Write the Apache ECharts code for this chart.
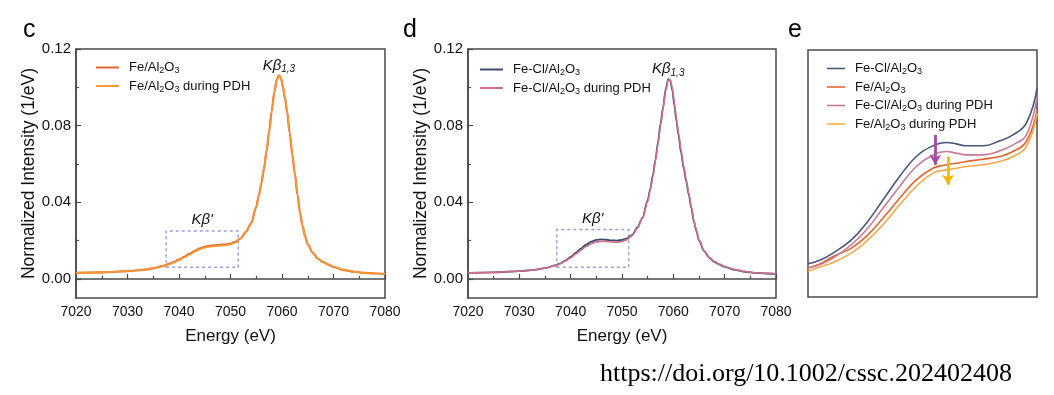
<!DOCTYPE html>
<html><head><meta charset="utf-8">
<script src="https://cdn.jsdelivr.net/npm/echarts@6/dist/echarts.min.js"></script>
<style>html,body{margin:0;padding:0;background:#fff}#chart{width:1054px;height:395px}</style>
</head><body><div id="chart"></div>
<script>
// ---------- data ----------
const energy = [7020,7025,7030,7033,7035,7037,7038,7039,7040,7041,7042,7043,7044,7045,7046,7047,7048,7049,7050,7051,7052,7053,7054,7055,7055.5,7056,7056.5,7057,7057.5,7058,7058.5,7059,7059.4,7059.8,7060.2,7060.6,7061,7061.5,7062,7062.5,7063,7063.5,7064,7064.5,7065,7066,7067,7068,7069,7070,7072,7074,7076,7078,7080];
const feAl2O3 = [.0031,.0034,.0040,.0047,.0055,.0068,.0077,.0088,.0100,.0115,.0130,.0145,.0158,.0167,.0172,.0175,.0177,.0179,.0183,.0193,.0212,.0245,.0290,.0375,.0435,.0500,.0575,.0665,.0770,.0875,.0975,.1040,.1063,.1050,.1000,.0940,.0870,.0760,.0650,.0550,.0440,.0345,.0275,.0220,.0180,.0135,.0105,.0087,.0074,.0062,.0046,.0037,.0031,.0028,.0026];
const feAl2O3PDH = [.0031,.0034,.0040,.0047,.0055,.0067,.0075,.0085,.0097,.0111,.0126,.0141,.0154,.0163,.0168,.0171,.0173,.0175,.0180,.0190,.0210,.0244,.0290,.0376,.0437,.0502,.0578,.0668,.0772,.0876,.0975,.1038,.1062,.1051,.1002,.0943,.0873,.0763,.0652,.0552,.0442,.0347,.0276,.0221,.0181,.0136,.0106,.0088,.0075,.0063,.0047,.0037,.0031,.0028,.0026];
const feClAl2O3 = [.0031,.0034,.0040,.0047,.0056,.0070,.0081,.0096,.0115,.0136,.0158,.0178,.0194,.0203,.0206,.0204,.0201,.0200,.0203,.0211,.0230,.0268,.0320,.0410,.0470,.0540,.0620,.0710,.0810,.0895,.0990,.1042,.1035,.0985,.0905,.0825,.0750,.0660,.0580,.0510,.0440,.0370,.0300,.0248,.0200,.0145,.0110,.0088,.0075,.0063,.0047,.0037,.0031,.0028,.0026];
const feClAl2O3PDH = [.0031,.0034,.0040,.0047,.0055,.0069,.0079,.0093,.0110,.0130,.0150,.0169,.0184,.0193,.0196,.0195,.0192,.0191,.0195,.0205,.0226,.0264,.0316,.0403,.0462,.0532,.0612,.0702,.0800,.0888,.0982,.1038,.1040,.0995,.0918,.0838,.0763,.0672,.0590,.0519,.0448,.0377,.0306,.0253,.0204,.0148,.0112,.0090,.0076,.0064,.0048,.0038,.0032,.0029,.0027];

// zoomed K-beta' region (panel e)
const zoomEnergy = [7037.5,7038.21,7039.03,7040.15,7041.07,7042.09,7043.1,7044.12,7045.14,7045.96,7046.57,7047.18,7048.2,7049.22,7050.03,7050.85,7051.5];
const zoomFeCl = [0.00856,0.00882,0.00938,0.0104,0.01168,0.01348,0.01527,0.01681,0.01763,0.01788,0.01778,0.01763,0.01763,0.01801,0.01847,0.01937,0.02205];
const zoomFe = [0.00823,0.00854,0.00912,0.00976,0.01066,0.01207,0.0136,0.01501,0.01591,0.01617,0.01629,0.01642,0.0166,0.01681,0.01719,0.01796,0.02039];
const zoomFeClPDH = [0.00823,0.00848,0.009,0.01002,0.01117,0.01284,0.0145,0.01604,0.01693,0.01719,0.01706,0.01693,0.01693,0.01724,0.0177,0.01847,0.02141];
const zoomFePDH = [0.00797,0.0083,0.00866,0.00938,0.01028,0.01156,0.01309,0.0145,0.01553,0.01578,0.01591,0.01604,0.01617,0.01642,0.01681,0.01757,0.02013];
const zoomArrows = [{x:7045.28, from:0.01847, to:0.01617, color:'#a24aa6'},{x:7046.06, from:0.0168, to:0.01463, color:'#f6b800'}];

const yLabelTicks = [0, 0.04, 0.08, 0.12];
const yMinorTicks = [0.02, 0.06, 0.10];
const kbPrimeBoxC = [[7037.5, 0.006],[7051.5, 0.025]];
const kbPrimeBoxD = [[7037.3, 0.006],[7051.3, 0.0257]];
const panelLabels = ['c','d','e'];
const doiText = 'https://doi.org/10.1002/cssc.202402408';

// ---------- helpers ----------
const FONT = "'Liberation Sans', Arial, sans-serif";
const pair = (xs, ys) => xs.map((x,i)=>[x, ys[i]]);
const subRich = s => s.replace(/Al2O3/g, 'Al{s|2}O{s|3}');
const peakOf = ys => { let k=0; ys.forEach((v,i)=>{ if(v>ys[k]) k=i; }); return [energy[k], ys[k]]; };
const legendRich = { s: { fontSize: 9, fontFamily: FONT, color:'#111', padding:[7,0,0,0] } };
const axisColor = '#4a4a4a';

function mainX(gi){
  return { gridIndex: gi, type:'value', min:7020, max:7080, interval:10,
    name:'Energy (eV)', nameLocation:'middle', nameGap:30,
    nameTextStyle:{fontFamily:FONT, fontSize:17, color:'#111'},
    axisLine:{show:true, lineStyle:{color:axisColor, width:1.5}},
    axisTick:{show:true, inside:true, length:5, lineStyle:{color:axisColor, width:1.2}},
    minorTick:{show:true, splitNumber:2, length:3, lineStyle:{color:axisColor, width:1.2}},
    axisLabel:{fontFamily:FONT, fontSize:14, color:'#111', margin:7, formatter: v=>String(v)},
    splitLine:{show:false} };
}
function mainY(gi){
  return { gridIndex: gi, type:'value', min:-0.01, max:0.12,
    name:'Normalized Intensity (1/eV)', nameLocation:'middle', nameGap:37,
    nameTextStyle:{fontFamily:FONT, fontSize:17.5, color:'#111'},
    axisLine:{show:true, lineStyle:{color:axisColor, width:1.5}},
    axisTick:{show:true, inside:true, length:5, customValues: yLabelTicks, lineStyle:{color:axisColor, width:1.2}},
    axisLabel:{fontFamily:FONT, fontSize:15, color:'#111', margin:5, customValues: yLabelTicks, formatter: v=>v.toFixed(2)},
    splitLine:{show:false} };
}
function minorY(gi){
  return { gridIndex: gi, type:'value', min:-0.01, max:0.12, position:'left',
    axisLine:{show:false},
    axisTick:{show:true, inside:true, length:3, customValues: yMinorTicks, lineStyle:{color:axisColor, width:1.2}},
    axisLabel:{show:false}, splitLine:{show:false} };
}
function kbLabel(ys){
  return { symbol:'circle', symbolSize:1, silent:true, itemStyle:{color:'rgba(0,0,0,0)'},
    label:{show:true, position:'top', distance:1, formatter:'{k|Kβ}{s|1,3}',
      rich:{k:{fontFamily:FONT, fontSize:15, fontStyle:'italic', color:'#111'},
            s:{fontFamily:FONT, fontSize:10, fontStyle:'italic', color:'#111', padding:[7,0,0,0]}}},
    data:[{coord: peakOf(ys)}] };
}
function kbPrime(box){
  return { silent:true,
    itemStyle:{color:'rgba(0,0,0,0)', borderColor:'#9c9fd8', borderWidth:1.5, borderType:[3,3]},
    label:{show:true, position:'top', distance:3, formatter:"Kβ'", fontFamily:FONT, fontSize:15, fontStyle:'italic', color:'#111'},
    data:[[{coord:box[0]},{coord:box[1]}]] };
}
function line(name, xi, yi, d, color, w, extra){
  return Object.assign({ name, type:'line', xAxisIndex:xi, yAxisIndex:yi, data:d, symbol:'none',
    smooth:0.3, smoothMonotone:'x', lineStyle:{color, width:w}, itemStyle:{color}, z:3 }, extra||{});
}

const names = {
  c1:'Fe/Al2O3', c2:'Fe/Al2O3 during PDH',
  d1:'Fe-Cl/Al2O3', d2:'Fe-Cl/Al2O3 during PDH',
  e1:'Fe-Cl/Al2O3', e2:'Fe/Al2O3', e3:'Fe-Cl/Al2O3 during PDH', e4:'Fe/Al2O3 during PDH'
};
const fmt = n => subRich(names[n]);

const eSmooth = {smooth:0.45, smoothMonotone:null};
const series = [
  line('c1', 0, 0, pair(energy, feAl2O3), '#e2652c', 2.2, {markArea: kbPrime(kbPrimeBoxC)}),
  line('c2', 0, 0, pair(energy, feAl2O3PDH), '#f59a35', 1.6, {markPoint: kbLabel(feAl2O3PDH)}),
  line('d1', 1, 2, pair(energy, feClAl2O3), '#3e4b72', 1.8, {markArea: kbPrime(kbPrimeBoxD), markPoint: kbLabel(feClAl2O3)}),
  line('d2', 1, 2, pair(energy, feClAl2O3PDH), '#d06f8c', 1.6),
  line('e1', 2, 4, pair(zoomEnergy, zoomFeCl), '#47567c', 1.6, eSmooth),
  line('e2', 2, 4, pair(zoomEnergy, zoomFe), '#e0642e', 1.6, eSmooth),
  line('e3', 2, 4, pair(zoomEnergy, zoomFeClPDH), '#c97a93', 1.6, eSmooth),
  line('e4', 2, 4, pair(zoomEnergy, zoomFePDH), '#f7a64a', 1.6, Object.assign({}, eSmooth, {
    markLine:{ silent:true, symbol:['none','arrow'], symbolSize:[9,10], label:{show:false},
      data: zoomArrows.map(a=>[{coord:[a.x,a.from], lineStyle:{color:a.color, width:2.8, type:'solid'}},{coord:[a.x,a.to]}]) }})),
];

function legend(left, top, data, w){
  return { left, top, orient:'vertical', data, itemWidth:w, itemHeight:10, itemGap:4,
    icon:'path://M0,4 L23,4 L23,6 L0,6 Z',
    textStyle:{fontFamily:FONT, fontSize:13, color:'#111', padding:[0,0,0,5], rich: legendRich},
    formatter: fmt, selectedMode:false, inactiveColor:'#ccc' };
}

const option = {
  animation:false,
  backgroundColor:'#fff',
  title: [
    {text:panelLabels[0], left:18, top:13, textStyle:{fontFamily:FONT, fontSize:25, fontWeight:'normal', color:'#000'}},
    {text:panelLabels[1], left:398, top:13, textStyle:{fontFamily:FONT, fontSize:25, fontWeight:'normal', color:'#000'}},
    {text:panelLabels[2], left:783, top:13, textStyle:{fontFamily:FONT, fontSize:25, fontWeight:'normal', color:'#000'}},
    {text:doiText, left:595, top:356, textStyle:{fontFamily:"'Liberation Serif', 'Times New Roman', serif", fontSize:26, fontWeight:'normal', color:'#000'}}
  ],
  grid: [
    {left:76, top:49, width:309, height:249, show:true, borderColor:axisColor, borderWidth:1.5, outerBoundsMode:'none'},
    {left:468, top:49, width:308, height:249, show:true, borderColor:axisColor, borderWidth:1.5, outerBoundsMode:'none'},
    {left:808, top:50, width:229, height:247, show:true, borderColor:axisColor, borderWidth:1.5, outerBoundsMode:'none'}
  ],
  xAxis: [ mainX(0), mainX(1),
    {gridIndex:2, type:'value', min:7037.5, max:7051.5, show:false} ],
  yAxis: [ mainY(0), minorY(0), mainY(1), minorY(1),
    {gridIndex:2, type:'value', min:0.006, max:0.025, show:false} ],
  legend: [
    legend(91, 56, ['c1','c2'], 23),
    legend(475, 58, ['d1','d2'], 23),
    legend(822, 57, ['e1','e2','e3','e4'], 18)
  ],
  series
};
const chart = echarts.init(document.getElementById('chart'), null, {renderer:'canvas'});
chart.setOption(option);
</script></body></html>
